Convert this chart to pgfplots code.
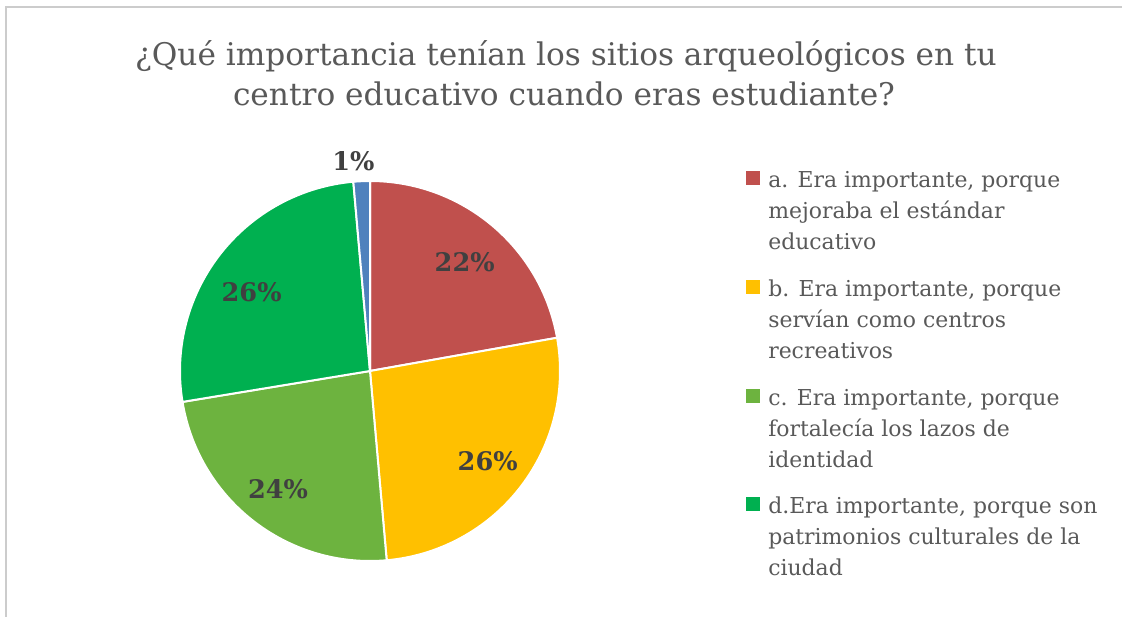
\documentclass[border=0pt]{standalone}
\usepackage{pgfplots}
\pgfplotsset{compat=1.18}
\usepackage{pgfplotstable}
\usepackage{fontspec}
\setmainfont{DejaVu Serif}
\definecolor{cA}{HTML}{C0504D}
\definecolor{cB}{HTML}{FFC000}
\definecolor{cC}{HTML}{6DB33F}
\definecolor{cD}{HTML}{00B050}
\definecolor{cE}{HTML}{4F81BD}
\definecolor{titlegray}{HTML}{595959}
\definecolor{labgray}{HTML}{404040}
\pgfplotstableread{
label value
a 22.2
b 26.4
c 23.8
d 26.2
e 1.4
}\piedata
\pgfplotstablegetelem{0}{value}\of\piedata \let\va\pgfplotsretval
\pgfplotstablegetelem{1}{value}\of\piedata \let\vb\pgfplotsretval
\pgfplotstablegetelem{2}{value}\of\piedata \let\vc\pgfplotsretval
\pgfplotstablegetelem{3}{value}\of\piedata \let\vd\pgfplotsretval
\pgfplotstablegetelem{4}{value}\of\piedata \let\ve\pgfplotsretval
\pgfmathsetmacro{\aS}{90}
\pgfmathsetmacro{\aE}{\aS-3.6*\va}
\pgfmathsetmacro{\bE}{\aE-3.6*\vb}
\pgfmathsetmacro{\cE}{\bE-3.6*\vc}
\pgfmathsetmacro{\dE}{\cE-3.6*\vd}
\pgfmathsetmacro{\eE}{\dE-3.6*\ve}
\pgfmathsetmacro{\aM}{(\aS+\aE)/2}
\pgfmathsetmacro{\bM}{(\aE+\bE)/2}
\pgfmathsetmacro{\cM}{(\bE+\cE)/2}
\pgfmathsetmacro{\dM}{(\cE+\dE)/2}
\pgfmathsetmacro{\eM}{(\dE+\eE)/2}
\begin{document}
\begin{tikzpicture}[x=0.75pt,y=-0.75pt]
\useasboundingbox (0,0) rectangle (1122,617);
\draw[color=black!20, line width=1.5pt] (6,700) -- (6,7) -- (1140,7);
\node[anchor=base, text=titlegray, font=\fontsize{23.4}{30}\selectfont] at (566,66) {¿Qué importancia tenían los sitios arqueológicos en tu};
\node[anchor=base, text=titlegray, font=\fontsize{23.4}{30}\selectfont] at (564,106) {centro educativo cuando eras estudiante?};
\begin{axis}[at={(277.5pt,-278.25pt)}, anchor=center, hide axis, x=142.5pt, y=142.5pt,
  xmin=-1, xmax=1, ymin=-1, ymax=1, clip=false]
\addplot[draw=white, line width=1.5pt, fill=cA] coordinates {(0,0)} -- (axis cs:{cos(\aS)},{sin(\aS)}) arc[start angle=\aS, end angle=\aE, radius=142.5pt] -- cycle;
\addplot[draw=white, line width=1.5pt, fill=cB] coordinates {(0,0)} -- (axis cs:{cos(\aE)},{sin(\aE)}) arc[start angle=\aE, end angle=\bE, radius=142.5pt] -- cycle;
\addplot[draw=white, line width=1.5pt, fill=cC] coordinates {(0,0)} -- (axis cs:{cos(\bE)},{sin(\bE)}) arc[start angle=\bE, end angle=\cE, radius=142.5pt] -- cycle;
\addplot[draw=white, line width=1.5pt, fill=cD] coordinates {(0,0)} -- (axis cs:{cos(\cE)},{sin(\cE)}) arc[start angle=\cE, end angle=\dE, radius=142.5pt] -- cycle;
\addplot[draw=white, line width=1.5pt, fill=cE] coordinates {(0,0)} -- (axis cs:{cos(\dE)},{sin(\dE)}) arc[start angle=\dE, end angle=\eE, radius=142.5pt] -- cycle;
\begin{scope}[every node/.style={text=labgray, font=\bfseries\fontsize{19.2}{21}\selectfont}]
\node at (axis cs:{0.76*cos(\aM-1)},{0.76*sin(\aM-1)}) {22\%};
\node at (axis cs:{0.78*cos(\bM)},{0.78*sin(\bM)}) {26\%};
\node at (axis cs:{0.79*cos(\cM)},{0.79*sin(\cM)}) {24\%};
\node at (axis cs:{0.75*cos(\dM+4)},{0.75*sin(\dM+4)}) {26\%};
\node at (axis cs:{1.11*cos(\eM+2)},{1.11*sin(\eM+2)}) {1\%};
\end{scope}
\end{axis}
\begin{scope}[every node/.style={anchor=base west, text=titlegray, font=\fontsize{16.45}{20}\selectfont, inner sep=0pt}]
\fill[cA] (746,171) rectangle (760,185);
\node at (768,187) {a. Era importante, porque};
\node at (768,218) {mejoraba el estándar};
\node at (768,249) {educativo};
\fill[cB] (746,280) rectangle (760,294);
\node at (768,296) {b. Era importante, porque};
\node at (768,327) {servían como centros};
\node at (768,358) {recreativos};
\fill[cC] (746,389) rectangle (760,403);
\node at (768,405) {c. Era importante, porque};
\node at (768,436) {fortalecía los lazos de};
\node at (768,467) {identidad};
\fill[cD] (746,497) rectangle (760,511);
\node at (768,513) {d.Era importante, porque son};
\node at (768,544) {patrimonios culturales de la};
\node at (768,575) {ciudad};
\end{scope}
\end{tikzpicture}
\end{document}
